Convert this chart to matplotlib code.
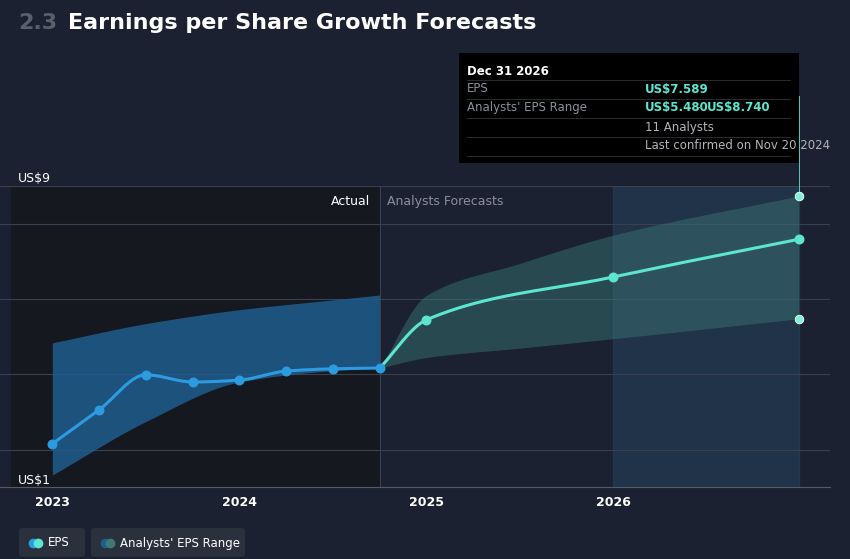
import matplotlib
matplotlib.use("Agg")
import matplotlib.pyplot as plt
from matplotlib.patches import FancyBboxPatch, Rectangle
import numpy as np

# Data
eps_x = [2023.0, 2023.25, 2023.5, 2023.75, 2024.0, 2024.25, 2024.5, 2024.75]
eps_y = [2.16, 3.06, 3.99, 3.80, 3.85, 4.09, 4.15, 4.17]
fc_x = [2024.75, 2025.0, 2026.0, 2026.99]
fc_y = [4.17, 5.45, 6.59, 7.589]
hist_band_x = [2023.0, 2023.5, 2024.0, 2024.5, 2024.75]
hist_hi = [4.84, 5.35, 5.72, 5.98, 6.11]
hist_lo = [1.33, 2.75, 3.80, 4.10, 4.17]
fc_band_x = [2024.75, 2025.0, 2025.5, 2026.0, 2026.99]
fc_hi = [4.17, 6.1, 6.95, 7.7, 8.74]
fc_lo = [4.17, 4.45, 4.7, 4.95, 5.48]

def smooth(x, y, n=200):
    x = np.asarray(x, float); y = np.asarray(y, float)
    # monotone cubic (Fritsch-Carlson)
    h = np.diff(x); d = np.diff(y) / h
    m = np.zeros_like(y)
    m[0], m[-1] = d[0], d[-1]
    for i in range(1, len(y) - 1):
        if d[i-1] * d[i] <= 0:
            m[i] = 0
        else:
            w1 = 2*h[i] + h[i-1]; w2 = h[i] + 2*h[i-1]
            m[i] = (w1 + w2) / (w1/d[i-1] + w2/d[i])
    xs = np.linspace(x[0], x[-1], n)
    ys = np.empty_like(xs)
    for k, xv in enumerate(xs):
        i = min(np.searchsorted(x, xv, side='right') - 1, len(x) - 2)
        t = (xv - x[i]) / h[i]
        h00 = 2*t**3 - 3*t**2 + 1; h10 = t**3 - 2*t**2 + t
        h01 = -2*t**3 + 3*t**2; h11 = t**3 - t**2
        ys[k] = h00*y[i] + h10*h[i]*m[i] + h01*y[i+1] + h11*h[i]*m[i+1]
    return xs, ys

BG = "#1b2130"
fig = plt.figure(figsize=(8.5, 5.59), dpi=100, facecolor=BG)
ax = fig.add_axes([0.0, 0.128, 0.977, 0.539])  # x pixel 0..830, y 72..487 from bottom
ax.set_facecolor(BG)
ax.set_xlim(2022.72, 2027.16)
ax.set_ylim(1.0, 9.0 + 0.0)
# actual region
ax.axvspan(ax.get_xlim()[0] + 0.06, 2024.75, color="#15181f", zorder=0)
ax.axvspan(2026.0, 2026.99, color="#2a4a66", alpha=0.45, zorder=0)
for g in [2, 4, 6, 8, 9]:
    ax.axhline(g, color="#3a4050", lw=0.8, zorder=0.5)
ax.axvline(2024.75, color="#3a4050", lw=0.8)

hx, hh = smooth(hist_band_x, hist_hi); _, hl = smooth(hist_band_x, hist_lo)
ax.fill_between(hx, hl, hh, color="#1f5d8f", alpha=0.85, lw=0, zorder=1)
fx, fh = smooth(fc_band_x, fc_hi); _, fl = smooth(fc_band_x, fc_lo)
ax.fill_between(fx, fl, fh, color="#3c7a78", alpha=0.45, lw=0, zorder=1)

ex, ey = smooth(eps_x, eps_y)
ax.plot(ex, ey, color="#2d9be0", lw=2.2, zorder=3)
ax.scatter(eps_x, eps_y, s=38, color="#2d9be0", zorder=4)
cx, cy = smooth(fc_x, fc_y)
ax.plot(cx, cy, color="#5ce6d0", lw=2.2, zorder=3)
ax.scatter(fc_x[1:], fc_y[1:], s=38, color="#5ce6d0", zorder=4)
ax.scatter([2026.99, 2026.99], [fc_hi[-1], fc_lo[-1]], s=38, color="#7ef0dc",
           edgecolor="white", linewidth=0.6, zorder=4)
ax.axvline(2026.99, ymin=(fc_hi[-1]-1)/8, ymax=1.3, color="#5ce6d0", lw=0.6, clip_on=False)

ax.set_xticks([2023, 2024, 2025, 2026])
ax.set_xticklabels(["2023", "2024", "2025", "2026"], color="white", fontsize=9, fontweight="bold")
ax.tick_params(axis="x", length=0, pad=6)
ax.set_yticks([])
for s in ["top", "right", "left"]:
    ax.spines[s].set_visible(False)
ax.spines["bottom"].set_color("#555b66")

ax.text(0.022, 9.1, "US$9", color="white", fontsize=9, transform=ax.get_yaxis_transform())
ax.text(0.022, 1.1, "US$1", color="white", fontsize=9, transform=ax.get_yaxis_transform())
ax.text(2024.7, 8.6, "Actual", color="white", fontsize=9, ha="right", va="center")
ax.text(2024.79, 8.6, "Analysts Forecasts", color="#8a8f99", fontsize=9, ha="left", va="center")

fig.text(0.022, 0.958, "2.3", color="#5a606b", fontsize=16, fontweight="bold", va="center")
fig.text(0.08, 0.958, "Earnings per Share Growth Forecasts", color="white", fontsize=16,
         fontweight="bold", va="center")

# tooltip
W, H = 850, 559
def px(x, y):
    return x / W, 1 - y / H
tip = Rectangle(px(459, 163), 340 / W, 110 / H, transform=fig.transFigure,
                facecolor="black", edgecolor="none", zorder=10)
fig.patches.append(tip)
fig.text(*px(467, 71), "Dec 31 2026", color="white", fontsize=8.5, fontweight="bold", va="center", zorder=11)
rows = [(89, "EPS", "US$7.589"), (108, "Analysts' EPS Range", None)]
for yy in [80, 99, 118, 137, 156]:
    fig.add_artist(plt.Line2D([467 / W, 790 / W], [1 - yy / H] * 2, color="#333", lw=0.6, zorder=11))
fig.text(*px(467, 89), "EPS", color="#8a8f99", fontsize=8.5, va="center", zorder=11)
fig.text(*px(645, 89), "US$7.589", color="#5ce6d0", fontsize=8.5, fontweight="bold", va="center", zorder=11)
fig.text(*px(467, 108), "Analysts' EPS Range", color="#8a8f99", fontsize=8.5, va="center", zorder=11)
t = fig.text(*px(645, 108), "US$5.480", color="#5ce6d0", fontsize=8.5, fontweight="bold", va="center", zorder=11)
fig.text(*px(697, 108), "-", color="#8a8f99", fontsize=8.5, va="center", zorder=11)
fig.text(*px(707, 108), "US$8.740", color="#5ce6d0", fontsize=8.5, fontweight="bold", va="center", zorder=11)
fig.text(*px(645, 127), "11 Analysts", color="#b0b4bb", fontsize=8.5, va="center", zorder=11)
fig.text(*px(645, 146), "Last confirmed on Nov 20 2024", color="#b0b4bb", fontsize=8.5, va="center", zorder=11)

# legend buttons
for (x0, w, label, c1, c2) in [(19, 66, "EPS", "#2d9be0", "#5ce6d0"),
                               (91, 154, "Analysts' EPS Range", "#1f5d8f", "#3c7a78")]:
    fig.patches.append(FancyBboxPatch(px(x0, 557), w / W, 29 / H, boxstyle="round,pad=0,rounding_size=0.005",
                                      transform=fig.transFigure, facecolor="#2a303c", edgecolor="none"))
    fig.add_artist(plt.Line2D([(x0 + 14) / W], [1 - 543 / H], marker="o", color=c1, markersize=6))
    fig.add_artist(plt.Line2D([(x0 + 19) / W], [1 - 543 / H], marker="o", color=c2, markersize=6))
    fig.text((x0 + 29) / W, 1 - 543 / H, label, color="white", fontsize=8.5, va="center")

fig.savefig("out.png", dpi=100, facecolor=BG)
